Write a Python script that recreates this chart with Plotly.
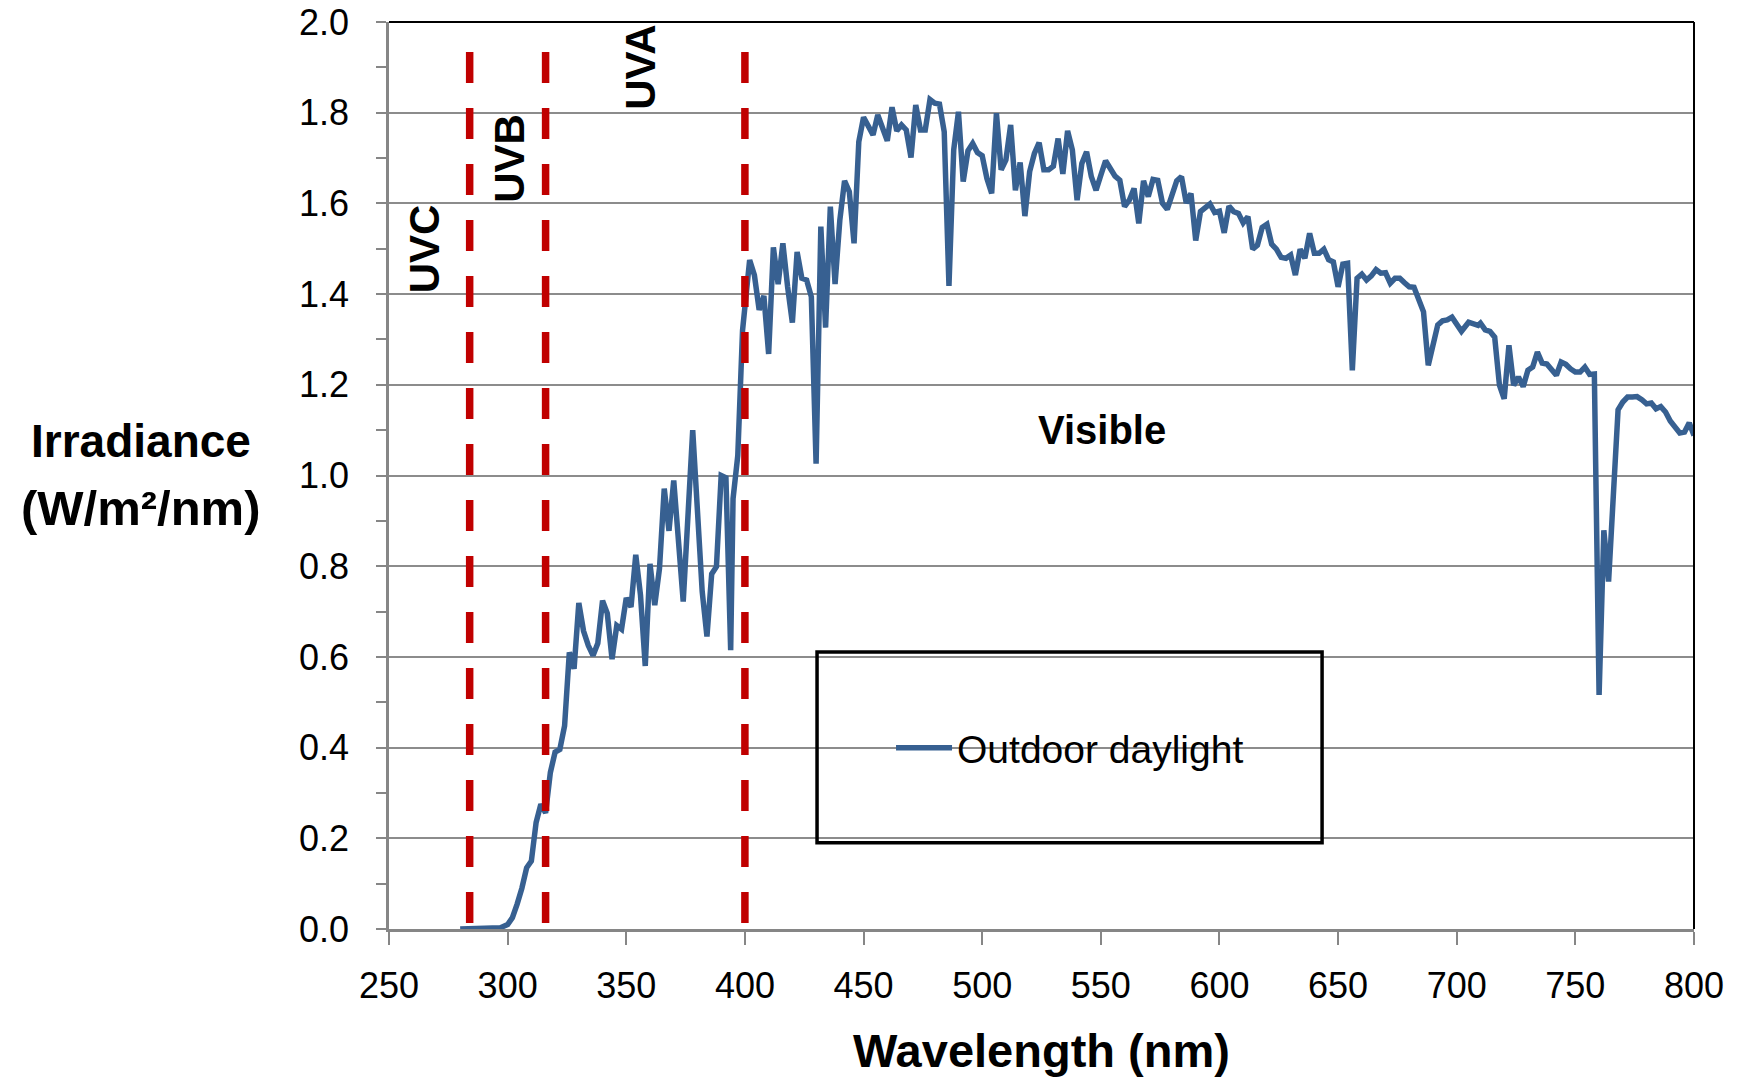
import plotly.graph_objects as go

# ---------------- data ----------------
wavelength = [280, 284, 288, 292, 295, 297, 300, 302, 304, 305, 306, 308, 310, 312, 314, 316, 318, 320,
              322, 324, 326, 328, 330, 332, 334, 336, 338, 340, 342, 344, 346, 348, 350, 352, 354, 356,
              358, 360, 362, 364, 366, 368, 370, 374, 378, 382, 384, 386, 388, 390, 392, 394, 395, 397,
              399, 402, 404, 406, 408, 410, 412, 414, 416, 418, 420, 422, 424, 426, 428, 430, 432, 434,
              436, 438, 440, 442, 444, 446, 448, 450, 452, 454, 456, 458, 460, 462, 464, 466, 468, 470,
              472, 474, 476, 478, 480, 482, 484, 486, 488, 490, 492, 494, 496, 498, 500, 502, 504, 506,
              508, 510, 512, 514, 516, 518, 520, 522, 524, 526, 528, 530, 532, 534, 536, 538, 540, 542,
              544, 546, 548, 550, 552, 554, 556, 558, 560, 562, 564, 566, 568, 570, 572, 574, 576, 578,
              580, 582, 584, 586, 588, 590, 592, 594, 596, 598, 600, 602, 604, 606, 608, 610, 612, 614,
              616, 618, 620, 622, 624, 626, 628, 630, 632, 634, 636, 638, 640, 642, 644, 646, 648, 650,
              652, 654, 656, 658, 660, 662, 664, 666, 668, 670, 672, 674, 676, 678, 680, 682, 684, 686,
              688, 690, 692, 694, 696, 698, 700, 702, 705, 707, 709, 710, 712, 714, 716, 718, 720, 722,
              724, 726, 728, 730, 732, 734, 736, 738, 740, 742, 744, 746, 748, 750, 752, 754, 756, 758,
              760, 762, 764, 768, 770, 772, 774, 776, 778, 780, 782, 784, 786, 788, 790, 792, 794, 796,
              798, 800]
irradiance = [0.0, 0.0, 0.0, 0.0, 0.0, 0.003, 0.01, 0.025, 0.055, 0.07, 0.09, 0.135, 0.15, 0.235, 0.275, 0.256, 0.345, 0.39,
              0.396, 0.448, 0.61, 0.574, 0.719, 0.657, 0.625, 0.603, 0.63, 0.724, 0.696, 0.595, 0.669, 0.661, 0.73, 0.71, 0.825, 0.736,
              0.58, 0.805, 0.714, 0.795, 0.971, 0.878, 0.989, 0.722, 1.10, 0.744, 0.645, 0.783, 0.799, 1.0, 0.995, 0.615, 0.949, 1.044,
              1.32, 1.475, 1.442, 1.365, 1.396, 1.268, 1.503, 1.422, 1.512, 1.416, 1.337, 1.493, 1.435, 1.431, 1.394, 1.026, 1.549, 1.326,
              1.593, 1.422, 1.563, 1.65, 1.626, 1.512, 1.736, 1.79, 1.773, 1.751, 1.795, 1.765, 1.738, 1.812, 1.76, 1.773, 1.762, 1.701,
              1.817, 1.762, 1.762, 1.829, 1.821, 1.819, 1.758, 1.418, 1.718, 1.802, 1.648, 1.716, 1.732, 1.712, 1.705, 1.655, 1.622, 1.799,
              1.674, 1.696, 1.773, 1.629, 1.69, 1.572, 1.67, 1.71, 1.734, 1.674, 1.674, 1.682, 1.743, 1.665, 1.76, 1.718, 1.607, 1.688,
              1.714, 1.659, 1.629, 1.662, 1.694, 1.677, 1.66, 1.651, 1.593, 1.607, 1.633, 1.556, 1.65, 1.615, 1.653, 1.651, 1.6, 1.587,
              1.622, 1.65, 1.659, 1.601, 1.622, 1.518, 1.582, 1.589, 1.599, 1.58, 1.583, 1.535, 1.594, 1.582, 1.578, 1.557, 1.571, 1.499,
              1.508, 1.547, 1.554, 1.51, 1.499, 1.481, 1.479, 1.486, 1.442, 1.499, 1.479, 1.534, 1.49, 1.49, 1.499, 1.476, 1.471, 1.416,
              1.466, 1.468, 1.232, 1.435, 1.444, 1.431, 1.44, 1.454, 1.446, 1.447, 1.424, 1.435, 1.435, 1.425, 1.416, 1.415, 1.39, 1.361,
              1.243, 1.284, 1.332, 1.341, 1.343, 1.349, 1.334, 1.318, 1.338, 1.334, 1.331, 1.336, 1.321, 1.318, 1.305, 1.199, 1.169, 1.287,
              1.199, 1.217, 1.196, 1.232, 1.239, 1.272, 1.248, 1.246, 1.233, 1.221, 1.25, 1.245, 1.235, 1.228, 1.228, 1.239, 1.223, 1.224,
              0.516, 0.879, 0.766, 1.145, 1.162, 1.173, 1.173, 1.174, 1.167, 1.158, 1.16, 1.147, 1.152, 1.14, 1.12, 1.107, 1.094, 1.096,
              1.116, 1.088]

series_name = "Outdoor daylight"
band_edges = [284, 316, 400]          # dashed red band boundaries (nm)
band_top = 1.934
band_labels = ["UVC", "UVB", "UVA"]
band_label_x = [265, 300.5, 356]
band_label_y = [1.5, 1.7, 1.9]
visible_label = ("Visible", 550.5, 1.1)
x_ticks = list(range(250, 801, 50))
y_ticks = [round(0.2 * i, 1) for i in range(11)]

FONT = "Liberation Sans, Arial, sans-serif"
GRAY = "#868686"
BLUE = "#376091"
RED = "#C00000"

fig = go.Figure()
fig.add_trace(go.Scatter(x=wavelength, y=irradiance, mode="lines", name=series_name,
                         line=dict(color=BLUE, width=5.5), showlegend=True))

# dashed band boundaries
for xv in band_edges:
    fig.add_shape(type="line", xref="x", yref="y", x0=xv, x1=xv, y0=band_top, y1=0,
                  line=dict(color=RED, width=7.5, dash="31px,25px"), layer="above")

# band labels
for txt, xv, yv in zip(band_labels, band_label_x, band_label_y):
    fig.add_annotation(x=xv, y=yv, xref="x", yref="y", text=f"<b>{txt}</b>", showarrow=False,
                       textangle=-90, font=dict(family=FONT, size=42, color="black"),
                       xanchor="center", yanchor="middle")
fig.add_annotation(x=visible_label[1], y=visible_label[2], xref="x", yref="y",
                   text=f"<b>{visible_label[0]}</b>", showarrow=False,
                   font=dict(family=FONT, size=40, color="black"), xanchor="center", yanchor="middle")

# y-axis title (horizontal, two lines)
fig.add_annotation(x=-0.19, y=1.076, xref="paper", yref="y", text="<b>Irradiance</b>", showarrow=False,
                   font=dict(family=FONT, size=46, color="black"), xanchor="center", yanchor="middle")
fig.add_annotation(x=-0.19, y=0.928, xref="paper", yref="y", text="<b>(W/m²/nm)</b>", showarrow=False,
                   font=dict(family=FONT, size=49, color="black"), xanchor="center", yanchor="middle")
# x-axis title
fig.add_annotation(x=0.5, y=-0.134, xref="paper", yref="paper", text="<b>Wavelength (nm)</b>", showarrow=False,
                   font=dict(family=FONT, size=47, color="black"), xanchor="center", yanchor="middle")

# plot frame top/right (black)
fig.add_shape(type="line", xref="paper", yref="paper", x0=0, x1=1, y0=1, y1=1,
              line=dict(color="black", width=2))
fig.add_shape(type="line", xref="paper", yref="paper", x0=1, x1=1, y0=0, y1=1,
              line=dict(color="black", width=2))
# legend box
fig.add_shape(type="rect", xref="paper", yref="paper", x0=0.328, x1=0.715, y0=0.095, y1=0.3055,
              line=dict(color="black", width=3.5), fillcolor="rgba(0,0,0,0)", layer="above")

fig.update_layout(
    width=1742, height=1078,
    margin=dict(l=389, r=48, t=22, b=149, autoexpand=False),
    paper_bgcolor="white", plot_bgcolor="white",
    font=dict(family=FONT, color="black"),
    showlegend=True,
    legend=dict(x=0.3847, y=0.1996, xanchor="left", yanchor="middle", bgcolor="rgba(0,0,0,0)",
                borderwidth=0, itemwidth=56, font=dict(family=FONT, size=39, color="black")),
    xaxis=dict(range=[250, 800], tickmode="array", tickvals=x_ticks, ticktext=[str(v) for v in x_ticks],
               showgrid=False, zeroline=False, showline=True, linecolor=GRAY, linewidth=2.5,
               ticks="outside", ticklen=13, tickwidth=2, tickcolor=GRAY, automargin=False,
               tickfont=dict(family=FONT, size=36, color="black"), ticklabelstandoff=10),
    yaxis=dict(range=[0, 2.0], tickmode="array", tickvals=y_ticks, ticktext=[f"{v:.1f}" for v in y_ticks],
               showgrid=True, gridcolor="#8c8c8c", gridwidth=1.5, zeroline=False,
               showline=True, linecolor=GRAY, linewidth=2.5, automargin=False,
               ticks="outside", ticklen=10, tickwidth=2, tickcolor=GRAY,
               minor=dict(dtick=0.1, ticks="outside", ticklen=10, tickwidth=2, tickcolor=GRAY, showgrid=False),
               tickfont=dict(family=FONT, size=36, color="black"), ticklabelstandoff=20),
    yaxis2=dict(range=[0, 2.0], overlaying="y", anchor="x", side="left", dtick=0.1, automargin=False,
                ticks="inside", ticklen=10, tickwidth=2, tickcolor=GRAY,
                showticklabels=False, showgrid=False, zeroline=False, showline=False),
)

fig.write_html("out.html")
